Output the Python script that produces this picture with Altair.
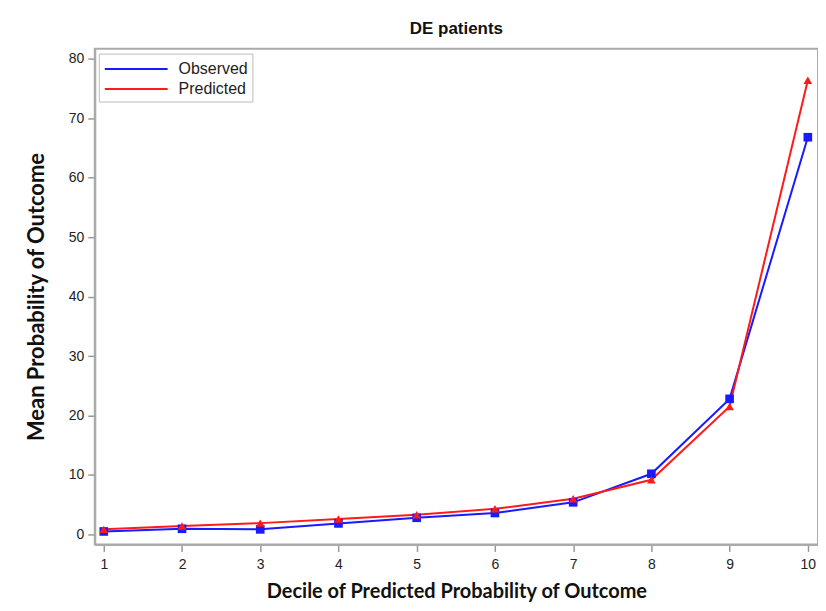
import altair as alt
import pandas as pd

deciles = [1, 2, 3, 4, 5, 6, 7, 8, 9, 10]
observed = [0.5, 0.95, 0.85, 1.85, 2.8, 3.6, 5.4, 10.2, 22.8, 66.8]
predicted = [0.85, 1.4, 1.9, 2.6, 3.3, 4.3, 6.0, 9.2, 21.5, 76.4]
series_names = ["Observed", "Predicted"]
series_colors = ["#1a1aff", "#ff1a1a"]
series_shapes = ["square", "triangle-up"]

rows = []
for d, o, p in zip(deciles, observed, predicted):
    rows.append({"decile": d, "value": o, "series": "Observed"})
    rows.append({"decile": d, "value": p, "series": "Predicted"})
df = pd.DataFrame(rows)

FONT = "Liberation Sans"
TITLE_FONT = "Lato"

x = alt.X("decile:Q",
          scale=alt.Scale(domain=[0.885, 10.13], nice=False, zero=False),
          axis=alt.Axis(values=deciles, title="Decile of Predicted Probability of Outcome",
                        grid=False, tickSize=7, labelPadding=6, titlePadding=10,
                        titleFontSize=20, format="d"))
y = alt.Y("value:Q",
          scale=alt.Scale(domain=[-1.68, 81.7], nice=False, zero=False),
          axis=alt.Axis(values=[0, 10, 20, 30, 40, 50, 60, 70, 80],
                        title="Mean Probability of Outcome",
                        grid=False, tickSize=7, labelPadding=4, titlePadding=20,
                        titleFontSize=22))
color = alt.Color("series:N",
                  scale=alt.Scale(domain=series_names, range=series_colors),
                  legend=alt.Legend(title=None, orient="none", legendX=4, legendY=5,
                                    symbolType="M-3,0H3", symbolSize=441,
                                    symbolStrokeWidth=2, symbolOffset=22,
                                    labelFontSize=16,
                                    labelFont=FONT, labelColor="#222",
                                    labelOffset=31,
                                    strokeColor="#bbbbbb", padding=4,
                                    rowPadding=0, fillColor="white"))

lines = alt.Chart(df).mark_line(strokeWidth=2).encode(x=x, y=y, color=color)
points = alt.Chart(df).mark_point(filled=True, size=75, opacity=1).encode(
    x=x, y=y,
    color=alt.Color("series:N", scale=alt.Scale(domain=series_names, range=series_colors), legend=None),
    shape=alt.Shape("series:N", scale=alt.Scale(domain=series_names, range=series_shapes), legend=None),
)

chart = (lines + points).resolve_scale(color="independent", shape="independent").properties(
    width=725, height=497,
    title=alt.TitleParams("DE patients", font=FONT, fontSize=17, fontWeight="bold",
                          offset=11, color="#111"),
    autosize=alt.AutoSizeParams(type="none"),
    padding={"left": 87, "top": 40, "right": 0, "bottom": 58},
).configure_view(stroke="#aaaaaa", strokeWidth=2).configure_axis(
    domainColor="#aaaaaa", domainWidth=2, tickColor="#999999", tickWidth=1.5,
    labelFont=FONT, labelFontSize=14, labelColor="#222",
    titleFont=TITLE_FONT, titleFontWeight="bold", titleColor="#111",
)

chart.save("out.html", embed_options={"renderer": "svg", "actions": False})
